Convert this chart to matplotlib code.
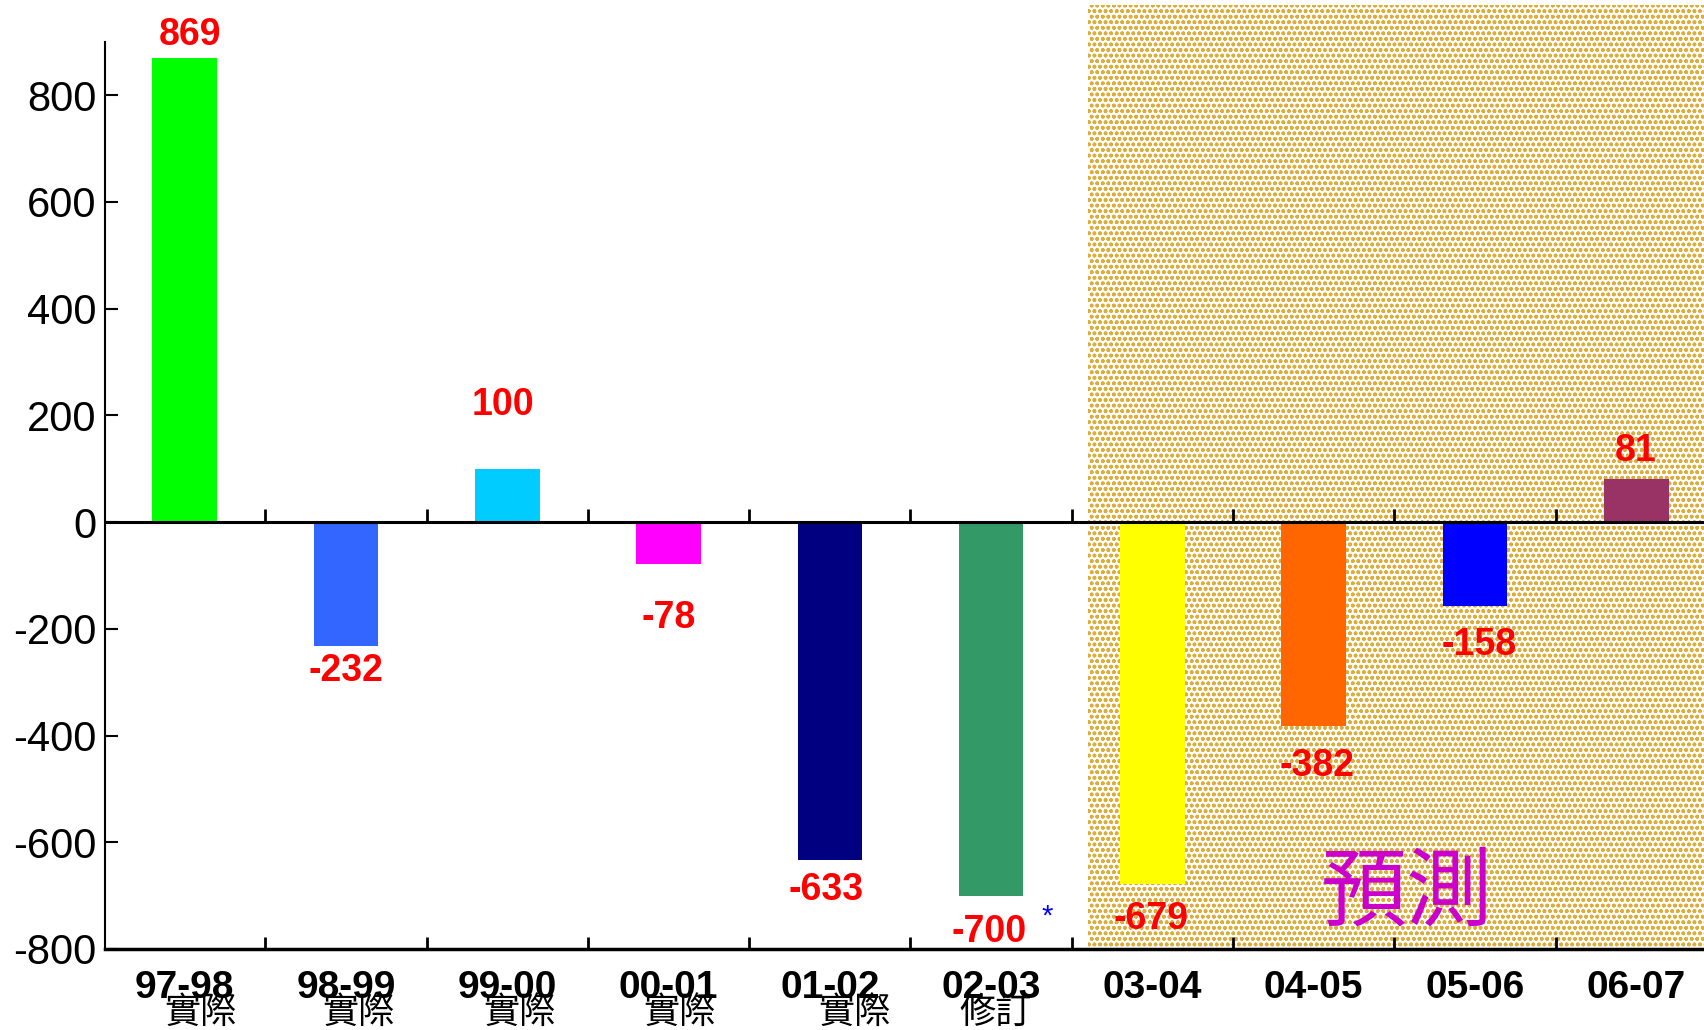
import numpy as np
import matplotlib
matplotlib.use("Agg")
import matplotlib.pyplot as plt
from matplotlib import font_manager
from matplotlib.patches import Rectangle

years = ["97-98", "98-99", "99-00", "00-01", "01-02", "02-03", "03-04", "04-05", "05-06", "06-07"]
status = ["實際", "實際", "實際", "實際", "實際", "修訂", "", "", "", ""]
values = [869, -232, 100, -78, -633, -700, -679, -382, -158, 81]
bar_colors = ["#00FF00", "#3366FF", "#00CCFF", "#FF00FF", "#000080",
              "#339966", "#FFFF00", "#FF6600", "#0000FF", "#993366"]
forecast_text = "預測"

# label placement (points, relative to bar end)
label_dy = [17, -18, 46, -39, -22, -26, -25, -29, -28, 20]
label_dx = [4, 0, -3, 0, -3, -1.5, -1, 2.5, 3, -0.5]
status_dx = [0.10, 0.08, 0.075, 0.07, 0.15, 0.03, 0, 0, 0, 0]

names = {f.name for f in font_manager.fontManager.ttflist}
narrow = "Liberation Sans Narrow" if "Liberation Sans Narrow" in names else "Liberation Sans"
cjk = ["Noto Sans CJK TC", "DejaVu Sans"]

plt.rcParams["font.family"] = ["Liberation Sans", "DejaVu Sans"]
plt.rcParams["axes.unicode_minus"] = False
plt.rcParams["hatch.linewidth"] = 1.1

W, H = 1704, 1030
fig = plt.figure(figsize=(W / 100, H / 100), dpi=100)
ax = fig.add_axes([105 / W, 81 / H, 1 - 105 / W, 1 - 81 / H])

x = np.arange(len(years))
ax.set_xlim(-0.494, 9.42)
ax.set_ylim(-800, 978)

# forecast zone
ax.add_patch(Rectangle((5.6, -800), 9.42 - 5.6, 968 + 800, facecolor="white",
                       edgecolor="#DDAD3A", hatch="ooo", linewidth=0, zorder=0))

ax.bar(x, values, width=0.4, color=bar_colors, zorder=2)
ax.axhline(0, color="black", lw=2.2, zorder=3)
ax.plot(x[:-1] + 0.5, np.zeros(len(x) - 1), ls="none", marker=2, ms=9.5, mew=2,
        color="black", zorder=3)

for xi, v, dx, dy in zip(x, values, label_dx, label_dy):
    ax.annotate(str(v), (xi, v), xytext=(dx, dy), textcoords="offset points",
                ha="center", va="center", color="red", fontsize=27,
                fontweight="bold", zorder=4)

for xi, s, dx in zip(x, status, status_dx):
    if s:
        ax.text(xi + dx, -919, s, ha="center", va="center", fontsize=26,
                family=cjk, clip_on=False)

ax.text(5.35, -740, "*", color="blue", fontsize=21, ha="center", va="center")
ax.text(7.58, -698, forecast_text, color="#CC00CC", fontsize=62,
        ha="center", va="center", family=cjk, zorder=4)

for side in ("top", "right"):
    ax.spines[side].set_visible(False)
ax.spines["left"].set_bounds(-800, 899)
ax.spines["left"].set_linewidth(1.5)
ax.spines["bottom"].set_linewidth(2.5)

ax.set_yticks(range(-800, 801, 200))
ax.tick_params(axis="y", direction="in", length=9, width=1.5, labelsize=30, pad=6)
ax.set_xticks(x)
ax.set_xticklabels(years, fontsize=28, fontweight="bold", family=narrow)
ax.set_xticks(x[:-1] + 0.5, minor=True)
ax.tick_params(axis="x", which="major", length=0, pad=15)
ax.tick_params(axis="x", which="minor", direction="in", length=9, width=2)

fig.savefig("out.png", dpi=100)
